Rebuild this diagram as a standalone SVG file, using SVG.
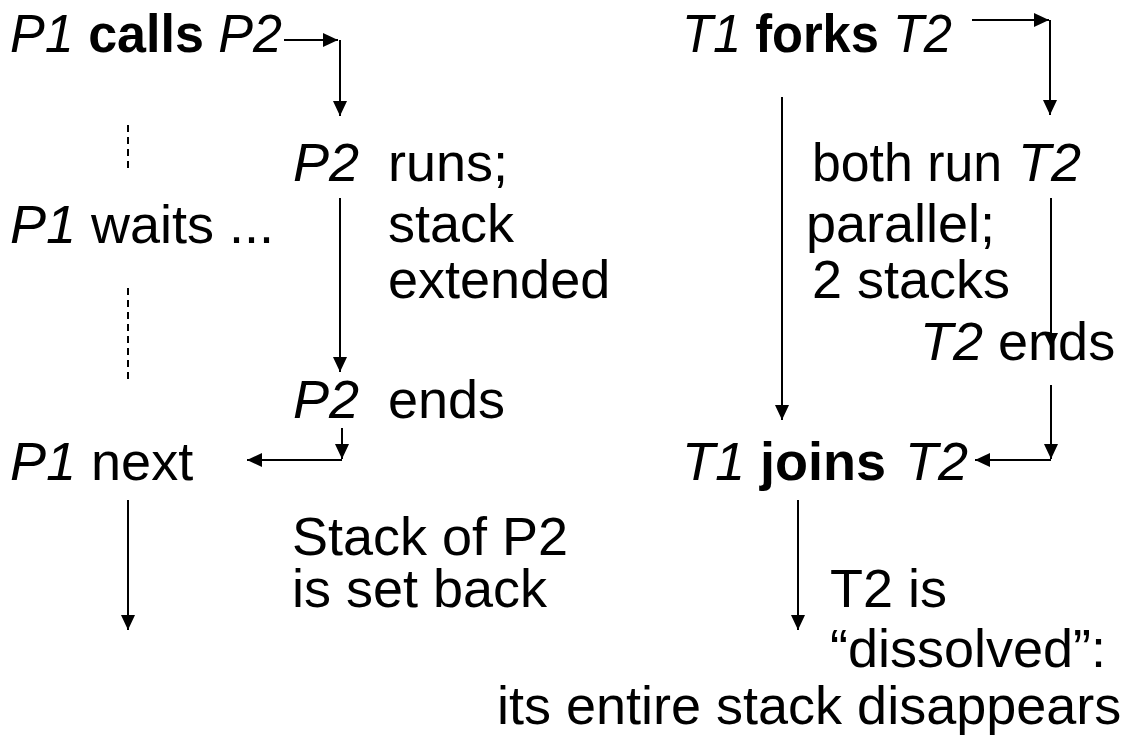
<svg xmlns="http://www.w3.org/2000/svg" width="1138" height="737" viewBox="0 0 1138 737">
<style>
text{font-family:"Liberation Sans",Arial,sans-serif;font-size:54px;fill:#000}
.i{font-style:italic}
.b{font-weight:bold}
.c{stroke:#000;stroke-width:2;fill:none}
.a{marker-end:url(#ah)}
.d{stroke-dasharray:7,5}
</style>
<defs>
<marker id="ah" markerUnits="userSpaceOnUse" markerWidth="15" markerHeight="14" refX="15" refY="7" orient="auto" viewBox="0 0 15 14">
<path d="M0,0 L15,7 L0,14 z" fill="#000"/>
</marker>
</defs>
<rect width="1138" height="737" fill="#fff"/>
<g id="p1calls"><text x="10" y="52" textLength="272" lengthAdjust="spacingAndGlyphs"><tspan class="i">P1</tspan> <tspan class="b">calls</tspan> <tspan class="i">P2</tspan></text></g>
<g id="p2runs"><text x="293" y="181" class="i">P2</text><text x="388" y="181">runs;</text><text x="388" y="242">stack</text><text x="388" y="298">extended</text></g>
<g id="p1waits"><text x="10" y="243"><tspan class="i">P1</tspan> waits ...</text></g>
<g id="p2ends"><text x="293" y="418" class="i">P2</text><text x="388" y="418">ends</text></g>
<g id="p1next"><text x="10" y="480"><tspan class="i">P1</tspan> next</text></g>
<g id="stackback"><text x="292" y="555">Stack of P2</text><text x="292" y="607">is set back</text></g>
<g id="t1forks"><text x="682" y="52" textLength="270" lengthAdjust="spacingAndGlyphs"><tspan class="i">T1</tspan> <tspan class="b">forks</tspan> <tspan class="i">T2</tspan></text></g>
<g id="bothrun"><text x="812" y="181" textLength="190" lengthAdjust="spacingAndGlyphs">both run</text><text x="806" y="242">parallel;</text><text x="812" y="298">2 stacks</text></g>
<g id="t2runs"><text x="1018" y="181" class="i">T2</text></g>
<g id="t2ends"><text x="920" y="360"><tspan class="i">T2</tspan> ends</text></g>
<g id="t1joins"><text x="682" y="480"><tspan class="i">T1</tspan> <tspan class="b">joins</tspan></text><text x="905" y="480" class="i">T2</text></g>
<g id="dissolved"><text x="830" y="607">T2 is</text><text x="830" y="667">“dissolved”:</text><text x="497" y="724">its entire stack disappears</text></g>
<g id="connectors">
<path class="c a" d="M284,40 H338"/>
<path class="c a" d="M340,40 V116"/>
<path class="c d" d="M128,125 V168"/>
<path class="c d" d="M128,288 V380"/>
<path class="c a" d="M340,198 V372"/>
<path class="c a" d="M342,428 V459"/>
<path class="c a" d="M342,460 H247"/>
<path class="c a" d="M128,500 V630"/>
<path class="c a" d="M972,20 H1049"/>
<path class="c a" d="M1050,20 V115"/>
<path class="c a" d="M782,97 V420"/>
<path class="c a" d="M1051,198 V348"/>
<path class="c a" d="M1051,385 V459"/>
<path class="c a" d="M1051,460 H975"/>
<path class="c a" d="M798,500 V630"/>
</g>
</svg>
